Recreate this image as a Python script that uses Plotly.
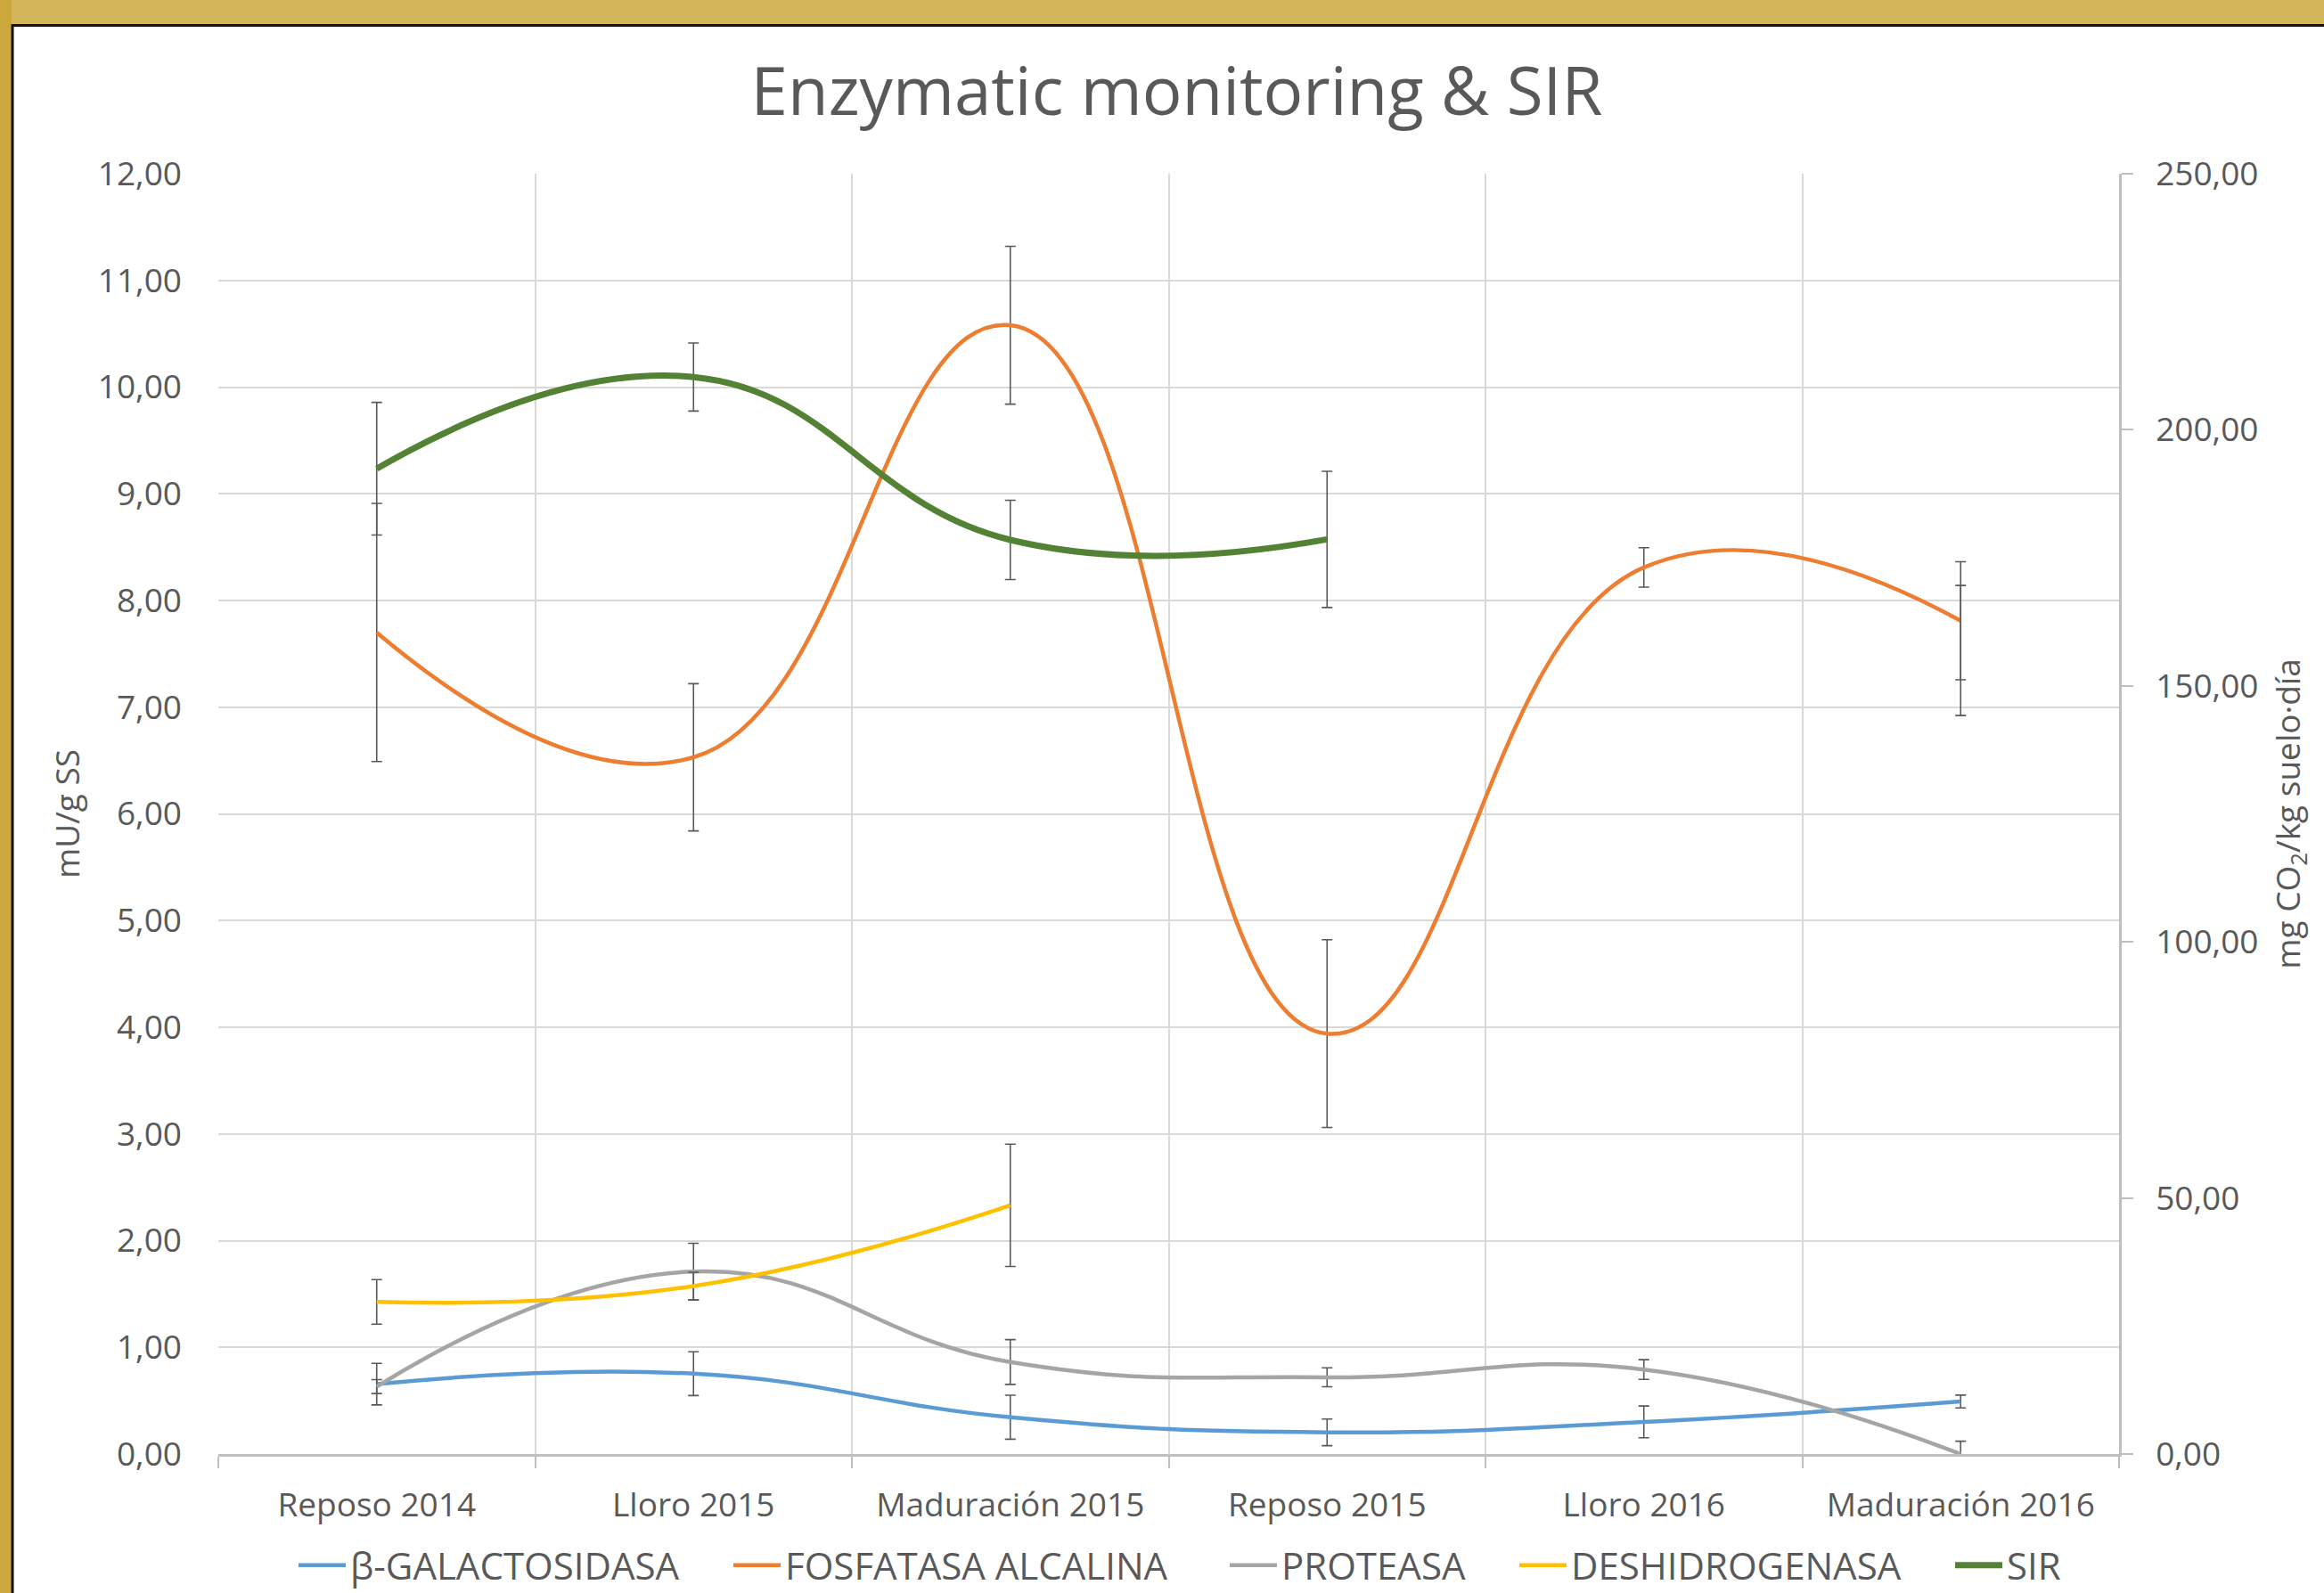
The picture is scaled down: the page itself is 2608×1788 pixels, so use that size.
import plotly.graph_objects as go

categories = ["Reposo 2014", "Lloro 2015", "Maduración 2015", "Reposo 2015", "Lloro 2016", "Maduración 2016"]

galactosidasa = [0.655, 0.753, 0.345, 0.203, 0.301, 0.492]
galactosidasa_err = [0.195, 0.205, 0.206, 0.125, 0.149, 0.060]

fosfatasa = [7.70, 6.53, 10.58, 3.94, 8.31, 7.81]
fosfatasa_err = [1.21, 0.69, 0.74, 0.88, 0.185, 0.553]

proteasa = [0.632, 1.71, 0.862, 0.719, 0.792, 0.0]
proteasa_err = [0.065, 0.265, 0.21, 0.089, 0.092, 0.12]

deshidrogenasa = [1.426, 1.574, 2.331, None, None, None]
deshidrogenasa_err = [0.209, 0.13, 0.573, 0, 0, 0]

sir = [192.4, 210.3, 178.5, 178.6, None, 156.9]
sir_err = [12.95, 6.65, 7.75, 13.3, 0, 12.7]

left_ticks = [0, 1, 2, 3, 4, 5, 6, 7, 8, 9, 10, 11, 12]
right_ticks = [0, 50, 100, 150, 200, 250]

FONT = "Open Sans"
TXT = "#595959"
ERR = "#595959"

W, H = 2608, 1788
ML, MR, MT, MB = 245, 230, 195, 156
PW, PH = W - ML - MR, H - MT - MB


def px_x(p):
    return (p - ML) / PW


def px_y(p):
    return (H - MB - p) / PH


fig = go.Figure()

legend_left_px = [330, 818, 1375, 1700, 2189]
legend_ids = ["legend", "legend2", "legend3", "legend4", "legend5"]


def add(i, name, y, err, color, width, axis="y"):
    fig.add_trace(go.Scatter(
        x=categories, y=y, name=name, mode="lines",
        line=dict(color=color, width=width, shape="spline", smoothing=1.3),
        connectgaps=False,
        error_y=dict(type="data", array=err, visible=True, color=ERR, thickness=1.6, width=6),
        yaxis=axis, legend=legend_ids[i],
    ))


add(0, "β-GALACTOSIDASA", galactosidasa, galactosidasa_err, "#5B9BD5", 4.5)
add(1, "FOSFATASA ALCALINA", fosfatasa, fosfatasa_err, "#ED7D31", 4.5)
add(2, "PROTEASA", proteasa, proteasa_err, "#A5A5A5", 4.5)
add(3, "DESHIDROGENASA", deshidrogenasa, deshidrogenasa_err, "#FFC000", 4.5)
add(4, "SIR", sir, sir_err, "#548235", 7, axis="y2")

shapes = [
    dict(type="rect", xref="paper", yref="paper", x0=px_x(0), x1=px_x(W), y0=px_y(0), y1=px_y(27),
         fillcolor="#D4B65A", line=dict(width=0), layer="above"),
    dict(type="rect", xref="paper", yref="paper", x0=px_x(0), x1=px_x(13), y0=px_y(0), y1=px_y(H),
         fillcolor="#CCA83C", line=dict(width=0), layer="above"),
    dict(type="path", xref="paper", yref="paper",
         path=f"M {px_x(14)},{px_y(H)} L {px_x(14)},{px_y(28.5)} L {px_x(W)},{px_y(28.5)}",
         line=dict(color="#111111", width=3), layer="above"),
]

legend_style = dict(orientation="h", xanchor="left", y=px_y(1757), yanchor="middle",
                    font=dict(size=42, color=TXT, family=FONT), bgcolor="rgba(0,0,0,0)",
                    itemwidth=53)
legends = {lid: dict(legend_style, x=px_x(lx)) for lid, lx in zip(legend_ids, legend_left_px)}

fig.update_layout(
    width=W, height=H,
    margin=dict(l=ML, r=MR, t=MT, b=MB, autoexpand=False),
    paper_bgcolor="white", plot_bgcolor="white",
    separators=",.",
    font=dict(family=FONT, color=TXT, size=37),
    title=dict(text="Enzymatic monitoring & SIR", x=px_x(1325), xanchor="center",
               y=1 - 103 / H, yanchor="middle", font=dict(size=74.5, color=TXT, family=FONT)),
    showlegend=True,
    shapes=shapes,
    xaxis=dict(type="category", categoryorder="array", categoryarray=categories,
               range=[-0.5, 5.5],
               tickson="boundaries", ticks="outside", ticklen=13, tickwidth=2, tickcolor="#BFBFBF",
               showline=True, linecolor="#BFBFBF", linewidth=2.5,
               showgrid=True, gridcolor="#D9D9D9", gridwidth=2,
               tickfont=dict(size=37, color=TXT), ticklabelstandoff=23),
    yaxis=dict(range=[0, 12], tickvals=left_ticks, tickformat=".2f",
               showgrid=True, gridcolor="#D9D9D9", gridwidth=2, zeroline=False,
               showline=False, ticks="", tickfont=dict(size=37, color=TXT), ticklabelstandoff=40,
               title=dict(text="mU/g SS", font=dict(size=37, color=TXT), standoff=8)),
    yaxis2=dict(range=[0, 250], tickvals=right_ticks, tickformat=".2f", overlaying="y", side="right",
                showgrid=False, zeroline=False, showline=True, linecolor="#BFBFBF", linewidth=2.5,
                ticks="outside", ticklen=13, tickwidth=2, tickcolor="#BFBFBF",
                tickfont=dict(size=37, color=TXT), ticklabelstandoff=18,
                title=dict(text="mg CO<sub>2</sub>/kg suelo·día", font=dict(size=37, color=TXT), standoff=22)),
    **legends,
)

fig.write_html("out.html", config={"displayModeBar": False},
               post_script="document.body.style.margin='0';")
